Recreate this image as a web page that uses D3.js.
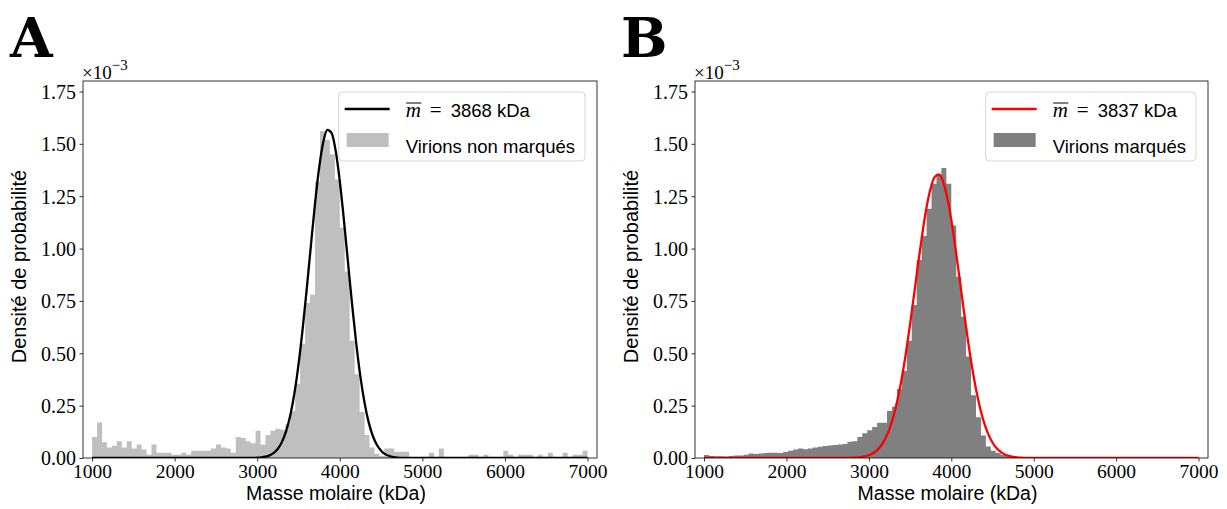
<!DOCTYPE html>
<html><head><meta charset="utf-8">
<script src="https://cdn.jsdelivr.net/npm/d3@7"></script>
<style>body{margin:0;background:#fff}</style>
</head><body>
<svg id="chart" width="1227" height="509"></svg>
<script>
// ---- data (densities in units of 10^-3) ----
const binStart = 1000, binWidth = 60, binCount = 100;
const histA = [
 0.10,0.17,0.075,0.05,0.058,0.08,0.05,0.08,0.045,0.065,
 0.04,0.015,0.065,0.025,0.025,0.025,0.015,0.015,0.025,0.015,
 0.035,0.035,0.035,0.035,0.045,0.065,0.05,0.045,0.025,0.10,
 0.095,0.08,0.07,0.13,0.065,0.11,0.13,0.14,0.135,0.16,
 0.225,0.355,0.545,0.74,0.78,1.32,1.56,1.52,1.45,1.33,
 1.10,0.89,0.56,0.40,0.22,0.11,0.05,0.02,0.01,0.045,
 0.045,0.03,0.03,0.03,0,0,0,0,0.025,0,
 0.045,0,0,0,0,0,0.015,0.015,0,0.015,
 0,0,0,0.035,0.015,0,0.015,0.015,0.015,0,
 0.015,0,0.025,0,0,0.025,0,0.015,0.015,0.035
];
const histB = [
 0.014,0.010,0.008,0.008,0.007,0.009,0.012,0.012,0.016,0.022,
 0.019,0.022,0.024,0.025,0.025,0.024,0.029,0.035,0.040,0.045,
 0.042,0.045,0.050,0.054,0.057,0.060,0.062,0.064,0.067,0.078,
 0.080,0.100,0.118,0.133,0.148,0.168,0.168,0.225,0.245,0.330,
 0.415,0.560,0.730,0.945,1.060,1.190,1.310,1.355,1.385,1.310,
 1.110,0.865,0.675,0.485,0.300,0.195,0.108,0.055,0.035,0.024,
 0.015,0.010,0.006,0.004,0.003,0.002,0.001,0,0,0,
 0,0,0,0,0,0,0,0,0,0,
 0,0,0,0.005,0,0,0,0,0,0,
 0,0.004,0,0,0,0,0,0,0,0
];
const fitX = [1000,2500,2550,2600,2650,2700,2750,2800,2850,2900,2950,3000,3050,3100,3150,3200,3250,3300,3350,3400,3450,3500,3550,3600,3650,3700,3750,3800,3850,3900,3950,4000,4050,4100,4150,4200,4250,4300,4350,4400,4450,4500,4550,4600,4650,4700,4750,4800,4850,4900,4950,5000,5050,5100,7000];
const fitA = [0,0,0,0,0,0,0,0,0.0001,0.0002,0.0006,0.0013,0.003,0.0062,0.0125,0.024,0.044,0.077,0.128,0.203,0.308,0.446,0.615,0.809,1.014,1.214,1.386,1.509,1.567,1.552,1.467,1.322,1.136,0.932,0.729,0.544,0.387,0.263,0.170,0.105,0.062,0.035,0.0186,0.0095,0.0046,0.0022,0.001,0.0004,0.0002,0.0001,0,0,0,0,0];
const fitB = [0,0,0,0.00005,0.0001,0.0003,0.0005,0.0011,0.0022,0.0041,0.0075,0.0132,0.0226,0.0374,0.0598,0.0927,0.139,0.201,0.2825,0.383,0.503,0.639,0.786,0.935,1.075,1.197,1.289,1.343,1.3535,1.320,1.245,1.137,1.004,0.858,0.709,0.567,0.439,0.328,0.238,0.1667,0.113,0.0741,0.047,0.0289,0.0171,0.0099,0.0055,0.0029,0.0015,0.0008,0.0004,0.0002,0.0001,0,0];
const xTicks = [1000,2000,3000,4000,5000,6000,7000];
const yTicks = [0,0.25,0.5,0.75,1.0,1.25,1.5,1.75];
const meanLabels = ["3868","3837"];
const seriesNames = ["Virions non marqués","Virions marqués"];
const panelLabels = ["A","B"];

// ---- drawing ----
const svg = d3.select("#chart");
const serif = "'Liberation Serif', 'DejaVu Serif', serif";
const sans = "'Liberation Sans', Arial, sans-serif";
const axTop = 81, axBottom = 458;
const panels = [
  {left:83, right:597, hist:histA, fit:fitA, fill:"#bfbfbf", line:"#000000", labelX:10, ylabX:26},
  {left:695, right:1208, hist:histB, fit:fitB, fill:"#808080", line:"#ff0000", labelX:621, ylabX:638}
];

panels.forEach((p, k) => {
  const x = d3.scaleLinear().domain([890, 7115]).range([p.left, p.right]);
  const y = d3.scaleLinear().domain([0, 1.8]).range([axBottom, axTop]);
  const g = svg.append("g");
  const clipId = "clip" + k;
  svg.append("clipPath").attr("id", clipId).append("rect")
    .attr("x", p.left).attr("y", axTop).attr("width", p.right - p.left).attr("height", axBottom - axTop);

  // histogram as step path
  const pts = [];
  pts.push([x(binStart), y(0)]);
  p.hist.forEach((v, i) => {
    const x0 = binStart + i * binWidth, x1 = x0 + binWidth;
    pts.push([x(x0), y(v)]);
    pts.push([x(x1), y(v)]);
  });
  pts.push([x(binStart + binCount * binWidth), y(0)]);
  g.append("path").attr("d", "M" + pts.map(d => d.join(",")).join("L") + "Z")
    .attr("fill", p.fill).attr("stroke", "none").attr("clip-path", `url(#${clipId})`);

  // fitted curve
  const line = d3.line().x((d, i) => x(fitX[i])).y(d => y(d)).curve(d3.curveMonotoneX);
  g.append("path").attr("d", line(p.fit)).attr("fill", "none")
    .attr("stroke", p.line).attr("stroke-width", 2.3).attr("stroke-linejoin", "round")
    .attr("clip-path", `url(#${clipId})`);

  // axes
  const xAxis = d3.axisBottom(x).tickValues(xTicks).tickSize(3.5).tickPadding(4).tickFormat(d3.format("d"));
  const yAxis = d3.axisLeft(y).tickValues(yTicks).tickSize(3.5).tickPadding(4).tickFormat(d3.format(".2f"));
  const gx = g.append("g").attr("transform", `translate(0,${axBottom})`).call(xAxis);
  const gy = g.append("g").attr("transform", `translate(${p.left},0)`).call(yAxis);
  [gx, gy].forEach(ax => {
    ax.select(".domain").remove();
    ax.selectAll(".tick line").attr("stroke", "#000").attr("stroke-width", 0.8);
    ax.selectAll(".tick text").attr("font-family", serif).attr("font-size", 20).attr("fill", "#000");
  });
  gx.selectAll(".tick text").attr("font-size", 19.5).attr("dy", "0.71em").attr("y", 6);
  gy.selectAll(".tick text").attr("x", -7).attr("dy", "0.34em");

  // frame
  g.append("rect").attr("x", p.left).attr("y", axTop).attr("width", p.right - p.left).attr("height", axBottom - axTop)
    .attr("fill", "none").attr("stroke", "#000").attr("stroke-width", 0.8);

  // axis labels
  g.append("text").attr("x", (p.left + p.right) / 2 - 4).attr("y", 500).attr("text-anchor", "middle")
    .attr("font-family", sans).attr("font-size", 19.5).text("Masse molaire (kDa)");
  g.append("text").attr("transform", `translate(${p.ylabX},${(axTop + axBottom) / 2 - 3}) rotate(-90)`)
    .attr("text-anchor", "middle").attr("font-family", sans).attr("font-size", 20).text("Densité de probabilité");

  // offset text ×10^-3
  const off = g.append("text").attr("x", p.left - 1).attr("y", 79).attr("font-family", serif).attr("font-size", 19);
  off.append("tspan").text("×10");
  off.append("tspan").attr("font-size", 15).attr("dy", -9).text("−3");

  // panel label
  g.append("text").attr("x", p.labelX).attr("y", 57).attr("font-family", "'DejaVu Serif', serif")
    .attr("font-weight", "bold").attr("font-size", 55).text(panelLabels[k]);

  // legend
  const lg = g.append("g");
  const fs = 18.5;
  const t1 = lg.append("g");
  const mText = t1.append("text").attr("x", 0).attr("y", 0).attr("font-family", serif)
    .attr("font-style", "italic").attr("font-size", 21).text("m");
  const mw = mText.node().getComputedTextLength();
  t1.append("line").attr("x1", 0.5).attr("x2", mw + 0.5).attr("y1", -14).attr("y2", -14)
    .attr("stroke", "#000").attr("stroke-width", 1);
  const rest = t1.append("text").attr("x", mw + 9).attr("y", 0);
  rest.append("tspan").attr("font-family", serif).attr("font-size", 21).text("=");
  rest.append("tspan").attr("dx", 9).attr("font-family", sans).attr("font-size", fs).text(meanLabels[k] + " kDa");
  const t2 = lg.append("text").attr("x", 0).attr("y", 36).attr("font-family", sans).attr("font-size", fs)
    .text(seriesNames[k]);
  const w1 = t1.node().getBBox().width, w2 = t2.node().getBBox().width;
  const boxRight = p.right - 12;
  const boxW = 67 + Math.max(w1, w2) + 10;
  const boxLeft = boxRight - boxW;
  lg.insert("rect", ":first-child").attr("x", boxLeft).attr("y", 92).attr("width", boxW).attr("height", 69)
    .attr("rx", 4).attr("fill", "#fff").attr("fill-opacity", 0.8).attr("stroke", "#d6d6d6").attr("stroke-width", 1);
  t1.attr("transform", `translate(${boxLeft + 67},117)`);
  t2.attr("transform", `translate(${boxLeft + 67},117)`);
  lg.append("line").attr("x1", boxLeft + 6).attr("x2", boxLeft + 51).attr("y1", 109).attr("y2", 109)
    .attr("stroke", p.line).attr("stroke-width", 2.3);
  lg.append("rect").attr("x", boxLeft + 8).attr("y", 133).attr("width", 42).attr("height", 14).attr("fill", p.fill);
});
</script>
</body></html>
